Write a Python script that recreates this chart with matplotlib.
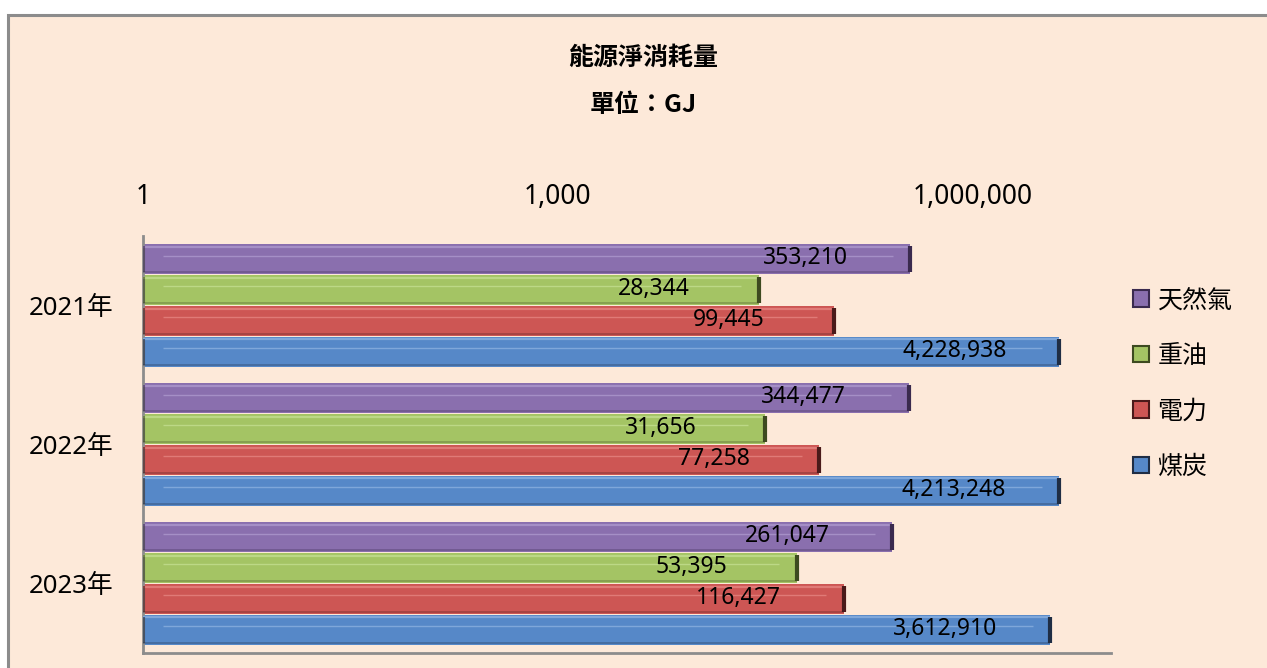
import matplotlib
matplotlib.use("Agg")
import matplotlib.pyplot as plt
from matplotlib.patches import Rectangle, Patch
from matplotlib.ticker import FuncFormatter

plt.rcParams['font.family'] = ['Noto Sans', 'Noto Sans CJK TC', 'DejaVu Sans']

# data (GJ)
years = ['2021年', '2022年', '2023年']
series = ['天然氣', '重油', '電力', '煤炭']
gas = [353210, 344477, 261047]
oil = [28344, 31656, 53395]
power = [99445, 77258, 116427]
coal = [4228938, 4213248, 3612910]
ticks = [1, 1000, 1000000]

colors = ['#8a6fae', '#a4c464', '#cd5654', '#5688c8']
lights = ['#a58fc6', '#bcd886', '#e07a77', '#7fa7da']
darks = ['#3a2a4e', '#3d4a20', '#4a1a1a', '#1f2d44']

fig = plt.figure(figsize=(12.67, 6.68), dpi=100, facecolor='white')
W, H = 1267, 668

# peach chart area with grey border
fig.patches.append(Rectangle((8 / W, -0.1), 1.2, (H - 15) / H + 0.1,
                             transform=fig.transFigure, facecolor='#fde9d9',
                             edgecolor='#8c8c8c', linewidth=2.2, zorder=-10))

ax = fig.add_axes([143 / W, (H - 653) / H, (1111 - 143) / W, (653 - 236) / H])
ax.set_facecolor('none')

vals = [gas, oil, power, coal]
h = 0.222
for i, (v, c, lc, dc) in enumerate(zip(vals, colors, lights, darks)):
    ys = [k + (i - 1.5) * h for k in range(len(years))]
    ax.barh(ys, v, height=h * 0.96, left=1, color=c, edgecolor='none', zorder=2)
    for y, x in zip(ys, v):
        # bevel highlights
        ax.plot([1, x], [y - h * 0.40, y - h * 0.40], color=lc, lw=1.6, zorder=3,
                solid_capstyle='butt')
        ax.plot([1.4, x * 0.75], [y - h * 0.12, y - h * 0.12], color=lc, lw=1.0,
                zorder=3, solid_capstyle='butt')
        ax.plot([1, x], [y + h * 0.42, y + h * 0.42], color=dc, lw=1.2, alpha=0.35,
                zorder=3, solid_capstyle='butt')
        ax.plot([x, x], [y - h * 0.42, y + h * 0.42], color=dc, lw=3, zorder=4,
                solid_capstyle='butt')
        ax.plot([1.02, 1.02], [y - h * 0.42, y + h * 0.42], color=dc, lw=1.5,
                alpha=0.6, zorder=4, solid_capstyle='butt')
        ax.annotate(f'{x:,}', xy=(x, y), xytext=(-105, 1), textcoords='offset pixels',
                    ha='center', va='center', fontsize=16.5, color='black', zorder=5)

ax.set_xscale('log')
ax.set_xlim(1, 1e7)
ax.set_ylim(len(years) - 0.5, -0.5)
ax.set_xticks(ticks)
ax.xaxis.set_major_formatter(FuncFormatter(lambda x, p: f'{int(x):,}'))
ax.xaxis.set_minor_locator(matplotlib.ticker.NullLocator())
ax.xaxis.tick_top()
ax.tick_params(axis='x', length=0, pad=18, labelsize=19)
ax.set_yticks(range(len(years)))
ax.set_yticklabels(years)
ax.tick_params(axis='y', length=0, pad=21, labelsize=18.5)
for s in ['top', 'right']:
    ax.spines[s].set_visible(False)
for s in ['left', 'bottom']:
    ax.spines[s].set_color('#8c8c8c')
    ax.spines[s].set_linewidth(2)

title_font = ['Noto Sans CJK TC', 'DejaVu Sans']
fig.text(643 / W, 1 - 58 / H, '能源淨消耗量', ha='center', va='center',
         fontsize=18, fontweight='bold', family=title_font)
fig.text(643 / W, 1 - 105 / H, '單位：GJ', ha='center', va='center',
         fontsize=18, fontweight='bold', family=title_font)

handles = [Patch(facecolor=c, edgecolor=d, linewidth=1.5) for c, d in zip(colors, darks)]
fig.legend(handles, series, loc='center left', bbox_to_anchor=(1110 / W, 1 - 384 / H),
           frameon=False, fontsize=18, handlelength=0.65, handleheight=0.65,
           handletextpad=0.35, labelspacing=1.22)

fig.savefig('out.png', dpi=100, facecolor='white')
